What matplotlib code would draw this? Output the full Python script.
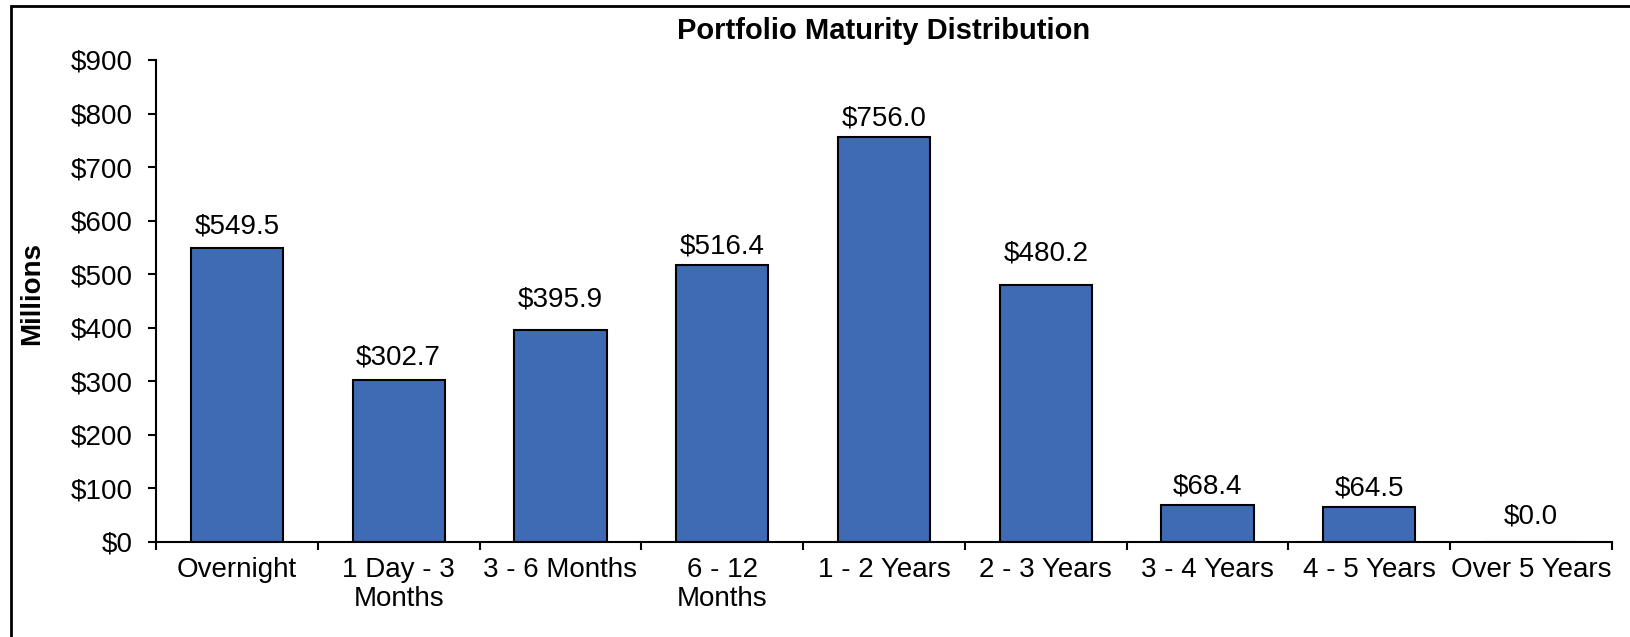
import matplotlib.pyplot as plt
from matplotlib.patches import Rectangle

plt.rcParams['font.family'] = ['Liberation Sans', 'DejaVu Sans']

# data (millions of dollars)
categories = ['Overnight', '1 Day - 3\nMonths', '3 - 6 Months', '6 - 12\nMonths',
              '1 - 2 Years', '2 - 3 Years', '3 - 4 Years', '4 - 5 Years', 'Over 5 Years']
values = [549.5, 302.7, 395.9, 516.4, 756.0, 480.2, 68.4, 64.5, 0.0]
yticks = [0, 100, 200, 300, 400, 500, 600, 700, 800, 900]

# gap (pixels) between bar top and label centre, as placed in the original
label_gap = [21, 22, 30, 19, 19, 31, 19, 19, 26]

fig = plt.figure(figsize=(16.31, 6.37), dpi=100)
ax = fig.add_axes([156 / 1631, 1 - 542 / 637, (1612 - 156) / 1631, (542 - 60) / 637])

x = list(range(len(categories)))
ax.bar(x, values, width=0.57, color='#3F6BB4', edgecolor='black', linewidth=1.5, zorder=2)

for xi, v, g in zip(x, values, label_gap):
    ax.annotate(f'${v:,.1f}', (xi, v), xytext=(0, g), textcoords='offset pixels',
                ha='center', va='center', fontsize=20)

ax.set_xlim(-0.5, len(categories) - 0.5)
ax.set_ylim(0, 900)
ax.set_yticks(yticks)
ax.set_yticklabels([f'${t}' for t in yticks], fontsize=20)

# category ticks sit on the boundaries, labels centred under bars
ax.set_xticks([i - 0.5 for i in range(len(categories) + 1)])
ax.set_xticklabels([])
ax.set_xticks(x, minor=True)
ax.set_xticklabels(categories, minor=True, fontsize=20, linespacing=1.15)
ax.tick_params(axis='x', which='minor', length=0, pad=11)
ax.tick_params(axis='x', which='major', length=6, width=1.5, direction='out')
ax.tick_params(axis='y', length=6, width=1.5, direction='out', pad=11)

for s in ['top', 'right']:
    ax.spines[s].set_visible(False)
for s in ['left', 'bottom']:
    ax.spines[s].set_linewidth(1.5)

ax.set_ylabel('Millions', fontsize=20, fontweight='bold', va='center')
ax.yaxis.set_label_coords(-(156 - 32) / (1612 - 156), 0.515)
fig.text(884 / 1631, 1 - 31 / 637, 'Portfolio Maturity Distribution',
         ha='center', va='center', fontsize=21, fontweight='bold')

# outer chart-area border, running off the right and bottom edges
fig.patches.append(Rectangle((11 / 1631, -0.1), 1.2, 1 - 6 / 637 + 0.1, transform=fig.transFigure,
                             fill=False, edgecolor='black', linewidth=2, zorder=0))

fig.savefig('out.png', dpi=100)
